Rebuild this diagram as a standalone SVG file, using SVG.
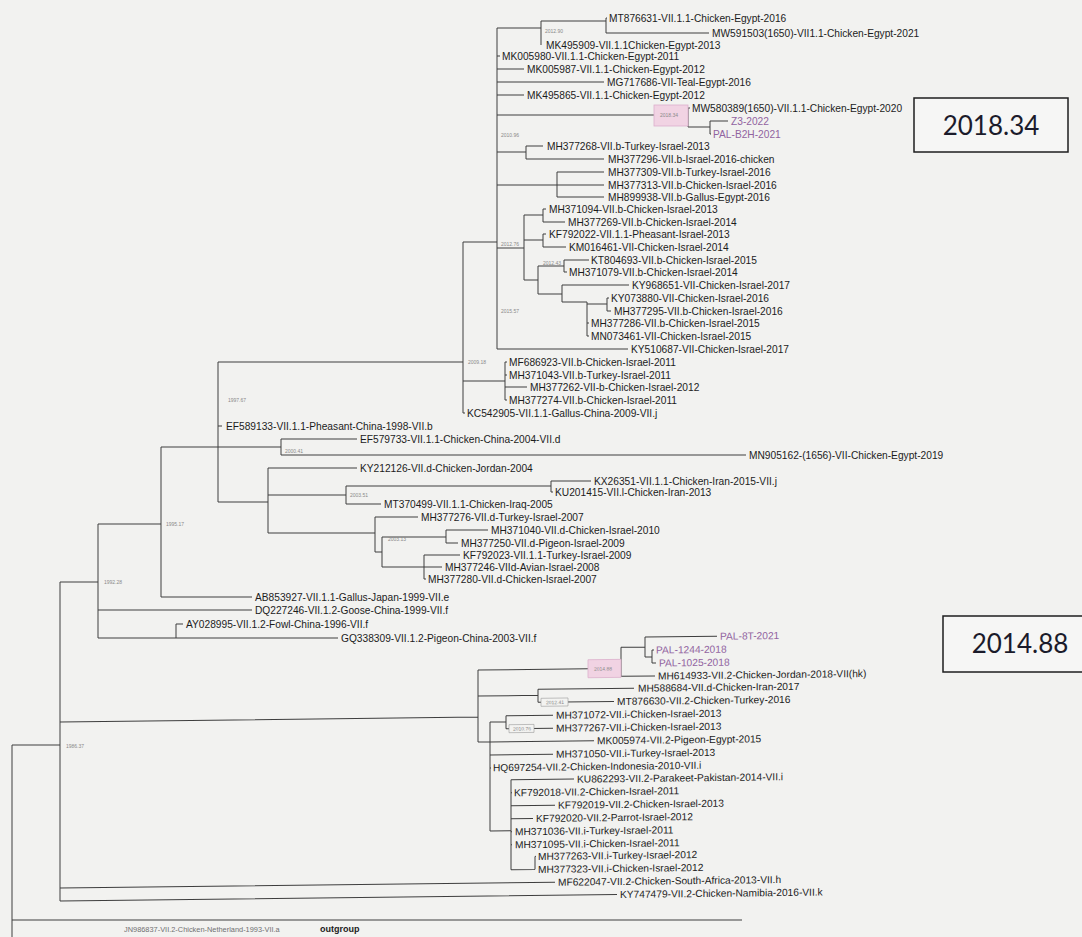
<svg xmlns="http://www.w3.org/2000/svg" width="1082" height="937" viewBox="0 0 1082 937">
<style>
.t{font-family:"Liberation Sans",Arial,sans-serif;font-size:10.2px;fill:#1c1c1c}
.p{fill:#9163a0}
.n{font-family:"Liberation Sans",Arial,sans-serif;font-size:5px;fill:#8a8a8a}
.e{fill:none;stroke:#3e3e3e;stroke-width:1}
.big{font-family:Lato,"Liberation Sans",sans-serif;font-size:26px;fill:#1b1b2b;text-anchor:middle}
.bx{fill:#f6f6f5;stroke:#1e1e1e;stroke-width:1.5}
.pk{fill:#f1d3e3;stroke:#dcb0cc;stroke-width:0.8}
.lb{fill:#f3f3f1;stroke:#9a9a9a;stroke-width:0.6}
</style>
<rect width="1082" height="937" fill="#f2f2f0"/>
<g id="connectors">
<path class="e" d="M497 28V349M497 28H541M541 21V45M541 21H606M606 18V33M606 18H607M606 33H709M497 56H500M497 69H524M497 82H604M497 95H524M497 115H654M688 108V127M688 108H690M688 127H710M710 121V134M710 121H728M710 134H711M497 152H526M526 146V159M526 146H543M526 159H604M497 185H557M557 172V197M557 172H604M557 185H604M557 197H604"/>
<path class="e" d="M497 248H524M524 215V280M524 215H543M543 209V222M543 209H546M543 222H565M524 240H543M543 234V247M543 234H546M543 247H566M524 280H538M538 266V294M538 266H564M564 260V272M564 260H589M564 272H567M538 294H562M562 285V302M562 285H629M562 302H587M587 302V336M587 304H607M607 298V311M607 298H609M607 311H611M587 323H589M587 336H589M497 349H628"/>
<path class="e" d="M463 242V413M463 242H497M463 381H505M505 362V400M505 362H507M505 375H507M505 387H527M505 400H507M463 413H465"/>
<path class="e" d="M218 362V502M218 362H463M218 426H222M161 447H281M281 439V455M281 439H357M281 455H746M218 502H268M268 468V533M268 468H357M268 495H346M346 486V504M346 486H551M551 481V492M551 481H591M551 492H553M346 504H381M268 533H375M375 517V552M375 517H418M375 552H382M382 537V567M382 537H446M446 530V543M446 530H488M446 543H458M382 567H424M424 555V579M424 555H460M424 567H442M424 579H426"/>
<path class="e" d="M161 447V597M161 597H252M98 524H161M98 524V638M98 610H252M98 638H176M176 624V638M176 624H183M176 638H338M60 582H98M60 582V901M12 745H60M12 745V937M12 920H742"/>
<g transform="matrix(1,-0.012,0,1,0,4.8)">
<path class="e" d="M60 718H478M478 671V743M478 671H588M621 650V679M621 650H645M645 640V660M645 640H717M645 660H652M652 653V666M652 653H654M652 666H656M621 679H655M478 697H538M538 691V704M538 691H634M538 704H614M478 743H490M490 723V832M490 723H506M506 717V730M506 717H553M506 730H553M490 743H594M490 756H553M490 769H491M490 832H511M511 781V871M511 781H574M511 794H512M511 807H555M511 820H533M511 833H512M511 846H512M511 871H535M535 858V871M535 858H536M60 884H555M60 897H617"/>
</g>
</g>
<g id="node-labels">
<text class="n" x="545" y="33">2012.90</text>
<rect class="pk" x="654" y="105" width="34" height="21"/>
<text class="n" x="660" y="117">2018.34</text>
<text class="n" x="501" y="137">2010.96</text>
<text class="n" x="501" y="246">2012.76</text>
<text class="n" x="543" y="265">2012.43</text>
<text class="n" x="501" y="313">2015.57</text>
<text class="n" x="468" y="364">2009.18</text>
<text class="n" x="228" y="402">1997.67</text>
<text class="n" x="285" y="453">2000.41</text>
<text class="n" x="350" y="497">2003.51</text>
<text class="n" x="388" y="541">2003.13</text>
<text class="n" x="166" y="526">1995.17</text>
<text class="n" x="104" y="584">1992.28</text>
<text class="n" x="66" y="748">1986.37</text>
<g transform="matrix(1,-0.012,0,1,0,4.8)">
<rect class="pk" x="588" y="662" width="33" height="18"/>
<text class="n" x="594" y="673">2014.88</text>
<rect class="lb" x="541" y="700" width="27" height="8"/>
<text class="n" x="546" y="706">2012.41</text>
<rect class="lb" x="509" y="726" width="25" height="8"/>
<text class="n" x="513" y="732">2010.76</text>
</g>
</g>
<g id="box-2018"><rect class="bx" x="914" y="98" width="154" height="54"/><text class="big" x="991" y="135">2018.34</text></g>
<g id="box-2014"><rect class="bx" x="943" y="616" width="160" height="56"/><text class="big" x="1020" y="653">2014.88</text></g>
<g id="n1"><text class="t" x="609" y="21.6">MT876631-VII.1.1-Chicken-Egypt-2016</text></g>
<g id="n2"><text class="t" x="712" y="36.6">MW591503(1650)-VII1.1-Chicken-Egypt-2021</text></g>
<g id="n3"><text class="t" x="546" y="48.6">MK495909-VII.1.1Chicken-Egypt-2013</text></g>
<g id="n4"><text class="t" x="502" y="59.6">MK005980-VII.1.1-Chicken-Egypt-2011</text></g>
<g id="n5"><text class="t" x="527" y="72.6">MK005987-VII.1.1-Chicken-Egypt-2012</text></g>
<g id="n6"><text class="t" x="607" y="85.6">MG717686-VII-Teal-Egypt-2016</text></g>
<g id="n7"><text class="t" x="527" y="98.6">MK495865-VII.1.1-Chicken-Egypt-2012</text></g>
<g id="n8"><text class="t" x="692" y="111.6">MW580389(1650)-VII.1.1-Chicken-Egypt-2020</text></g>
<g id="n9"><text class="t p" x="731" y="124.6">Z3-2022</text></g>
<g id="n10"><text class="t p" x="713" y="137.6">PAL-B2H-2021</text></g>
<g id="n11"><text class="t" x="547" y="149.6">MH377268-VII.b-Turkey-Israel-2013</text></g>
<g id="n12"><text class="t" x="608" y="162.6">MH377296-VII.b-Israel-2016-chicken</text></g>
<g id="n13"><text class="t" x="608" y="175.6">MH377309-VII.b-Turkey-Israel-2016</text></g>
<g id="n14"><text class="t" x="608" y="188.6">MH377313-VII.b-Chicken-Israel-2016</text></g>
<g id="n15"><text class="t" x="608" y="200.6">MH899938-VII.b-Gallus-Egypt-2016</text></g>
<g id="n16"><text class="t" x="549" y="212.6">MH371094-VII.b-Chicken-Israel-2013</text></g>
<g id="n17"><text class="t" x="568" y="225.6">MH377269-VII.b-Chicken-Israel-2014</text></g>
<g id="n18"><text class="t" x="549" y="237.6">KF792022-VII.1.1-Pheasant-Israel-2013</text></g>
<g id="n19"><text class="t" x="569" y="250.6">KM016461-VII-Chicken-Israel-2014</text></g>
<g id="n20"><text class="t" x="591" y="263.6">KT804693-VII.b-Chicken-Israel-2015</text></g>
<g id="n21"><text class="t" x="569" y="275.6">MH371079-VII.b-Chicken-Israel-2014</text></g>
<g id="n22"><text class="t" x="632" y="288.6">KY968651-VII-Chicken-Israel-2017</text></g>
<g id="n23"><text class="t" x="611" y="301.6">KY073880-VII-Chicken-Israel-2016</text></g>
<g id="n24"><text class="t" x="614" y="314.6">MH377295-VII.b-Chicken-Israel-2016</text></g>
<g id="n25"><text class="t" x="591" y="326.6">MH377286-VII.b-Chicken-Israel-2015</text></g>
<g id="n26"><text class="t" x="591" y="339.6">MN073461-VII-Chicken-Israel-2015</text></g>
<g id="n27"><text class="t" x="631" y="352.6">KY510687-VII-Chicken-Israel-2017</text></g>
<g id="n28"><text class="t" x="509" y="365.6">MF686923-VII.b-Chicken-Israel-2011</text></g>
<g id="n29"><text class="t" x="509" y="378.6">MH371043-VII.b-Turkey-Israel-2011</text></g>
<g id="n30"><text class="t" x="530" y="390.6">MH377262-VII-b-Chicken-Israel-2012</text></g>
<g id="n31"><text class="t" x="509" y="403.6">MH377274-VII.b-Chicken-Israel-2011</text></g>
<g id="n32"><text class="t" x="467" y="416.6">KC542905-VII.1.1-Gallus-China-2009-VII.j</text></g>
<g id="n33"><text class="t" x="226" y="429.6">EF589133-VII.1.1-Pheasant-China-1998-VII.b</text></g>
<g id="n34"><text class="t" x="360" y="442.6">EF579733-VII.1.1-Chicken-China-2004-VII.d</text></g>
<g id="n35"><text class="t" x="749" y="458.6">MN905162-(1656)-VII-Chicken-Egypt-2019</text></g>
<g id="n36"><text class="t" x="360" y="471.6">KY212126-VII.d-Chicken-Jordan-2004</text></g>
<g id="n37"><text class="t" x="594" y="484.6">KX26351-VII.1.1-Chicken-Iran-2015-VII.j</text></g>
<g id="n38"><text class="t" x="555" y="495.6">KU201415-VII.l-Chicken-Iran-2013</text></g>
<g id="n39"><text class="t" x="384" y="507.6">MT370499-VII.1.1-Chicken-Iraq-2005</text></g>
<g id="n40"><text class="t" x="421" y="520.6">MH377276-VII.d-Turkey-Israel-2007</text></g>
<g id="n41"><text class="t" x="491" y="533.6">MH371040-VII.d-Chicken-Israel-2010</text></g>
<g id="n42"><text class="t" x="461" y="546.6">MH377250-VII.d-Pigeon-Israel-2009</text></g>
<g id="n43"><text class="t" x="463" y="558.6">KF792023-VII.1.1-Turkey-Israel-2009</text></g>
<g id="n44"><text class="t" x="445" y="570.6">MH377246-VIId-Avian-Israel-2008</text></g>
<g id="n45"><text class="t" x="428" y="582.6">MH377280-VII.d-Chicken-Israel-2007</text></g>
<g id="n46"><text class="t" x="255" y="600.6">AB853927-VII.1.1-Gallus-Japan-1999-VII.e</text></g>
<g id="n47"><text class="t" x="255" y="613.6">DQ227246-VII.1.2-Goose-China-1999-VII.f</text></g>
<g id="n48"><text class="t" x="186" y="627.6">AY028995-VII.1.2-Fowl-China-1996-VII.f</text></g>
<g id="n49"><text class="t" x="341" y="641.6">GQ338309-VII.1.2-Pigeon-China-2003-VII.f</text></g>
<g id="bottom-clade" transform="matrix(1,-0.012,0,1,0,4.8)">
<g id="n50"><text class="t p" x="720" y="643.6">PAL-8T-2021</text></g>
<g id="n51"><text class="t p" x="656" y="656.6">PAL-1244-2018</text></g>
<g id="n52"><text class="t p" x="659" y="669.6">PAL-1025-2018</text></g>
<g id="n53"><text class="t" x="658" y="682.6">MH614933-VII.2-Chicken-Jordan-2018-VII(hk)</text></g>
<g id="n54"><text class="t" x="638" y="694.6">MH588684-VII.d-Chicken-Iran-2017</text></g>
<g id="n55"><text class="t" x="617" y="707.6">MT876630-VII.2-Chicken-Turkey-2016</text></g>
<g id="n56"><text class="t" x="556" y="720.6">MH371072-VII.i-Chicken-Israel-2013</text></g>
<g id="n57"><text class="t" x="556" y="733.6">MH377267-VII.i-Chicken-Israel-2013</text></g>
<g id="n58"><text class="t" x="597" y="746.6">MK005974-VII.2-Pigeon-Egypt-2015</text></g>
<g id="n59"><text class="t" x="556" y="759.6">MH371050-VII.i-Turkey-Israel-2013</text></g>
<g id="n60"><text class="t" x="493" y="772.4">HQ697254-VII.2-Chicken-Indonesia-2010-VII.i</text></g>
<g id="n61"><text class="t" x="577" y="784.8">KU862293-VII.2-Parakeet-Pakistan-2014-VII.i</text></g>
<g id="n62"><text class="t" x="514" y="797.6">KF792018-VII.2-Chicken-Israel-2011</text></g>
<g id="n63"><text class="t" x="558" y="810.6">KF792019-VII.2-Chicken-Israel-2013</text></g>
<g id="n64"><text class="t" x="536" y="823.6">KF792020-VII.2-Parrot-Israel-2012</text></g>
<g id="n65"><text class="t" x="515" y="836.6">MH371036-VII.i-Turkey-Israel-2011</text></g>
<g id="n66"><text class="t" x="515" y="849.6">MH371095-VII.i-Chicken-Israel-2011</text></g>
<g id="n67"><text class="t" x="538" y="861.6">MH377263-VII.i-Turkey-Israel-2012</text></g>
<g id="n68"><text class="t" x="538" y="874.6">MH377323-VII.i-Chicken-Israel-2012</text></g>
<g id="n69"><text class="t" x="558" y="887.6">MF622047-VII.2-Chicken-South-Africa-2013-VII.h</text></g>
<g id="n70"><text class="t" x="620" y="900.6">KY747479-VII.2-Chicken-Namibia-2016-VII.k</text></g>
</g>
<g id="n71"><text x="124" y="932" style="font-family:'Liberation Sans',Arial,sans-serif;font-size:7.4px;fill:#707070">JN986837-VII.2-Chicken-Netherland-1993-VII.a</text></g>
<g id="outgroup"><text x="320" y="932" style="font-family:'Liberation Sans',Arial,sans-serif;font-size:9px;font-weight:bold;fill:#1c1c1c">outgroup</text></g>
</svg>
